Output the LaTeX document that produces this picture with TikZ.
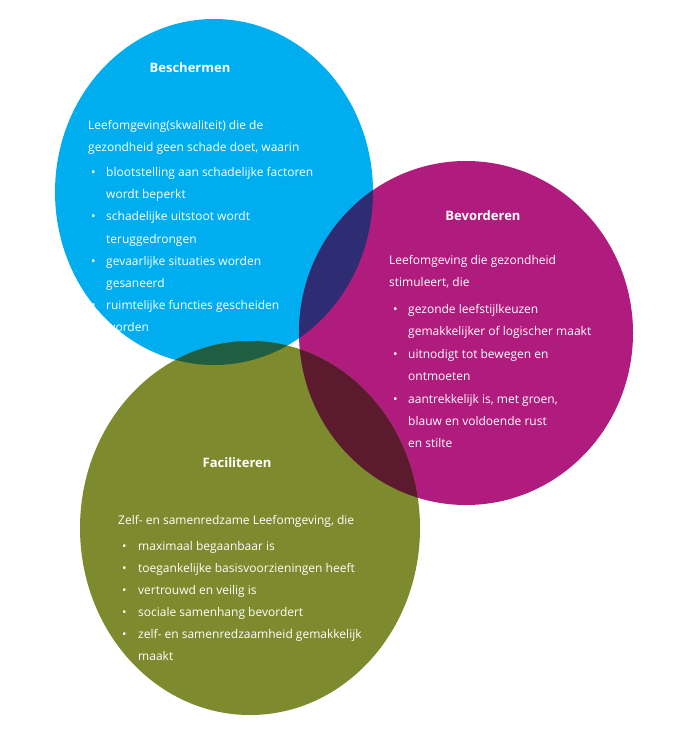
\documentclass[tikz,border=0pt]{standalone}
\usepackage{fontspec}
\setmainfont{Open Sans}
\begin{document}
\begin{tikzpicture}[x=1pt,y=-1pt,
  t/.style={anchor=base west,text=white,inner sep=0pt,font=\fontsize{12}{14}\selectfont},
  h/.style={anchor=base,text=white,inner sep=0pt,font=\bfseries\fontsize{13}{15}\selectfont},
  b/.style={anchor=base west,text=white,inner sep=0pt,font=\fontsize{12}{14}\selectfont}]
\useasboundingbox (0,0) rectangle (682,751);
\fill[white] (0,0) rectangle (682,751);
\def\B{(214,192) ellipse [x radius=159,y radius=173]}
\def\M{(466,333) ellipse [x radius=167,y radius=172]}
\def\G{(250,528) ellipse [x radius=170,y radius=187]}
\definecolor{colB}{HTML}{00AEEF}
\definecolor{colM}{HTML}{B01C7E}
\definecolor{colG}{HTML}{7E8A2E}
\definecolor{colBM}{HTML}{2E2C72}
\definecolor{colBG}{HTML}{1F5E40}
\definecolor{colMG}{HTML}{5C1A2E}
\definecolor{colBMG}{HTML}{2A1E3A}
\fill[colB] \B; \fill[colM] \M; \fill[colG] \G;
\begin{scope}\clip \B; \fill[colBM] \M; \fill[colBG] \G; \end{scope}
\begin{scope}\clip \M; \fill[colMG] \G; \end{scope}
\begin{scope}\clip \B; \clip \M; \fill[colBMG] \G; \end{scope}
% Beschermen
\node[h] (h1) at (190,73) {Beschermen};
\node[t] (a1) at (88,130) {Leefomgeving(skwaliteit) die de};
\node[t] (a2) at (88,152) {gezondheid geen schade doet, waarin};
\foreach \y/\s/\bl in {177/blootstelling aan schadelijke factoren/1,199/wordt beperkt/0,221/schadelijke uitstoot wordt/1,243/teruggedrongen/0,265/gevaarlijke situaties worden/1,287/gesaneerd/0,309/ruimtelijke functies gescheiden/1,331/worden/0}{
  \node[t] (ba\y) at (106,\y) {\s};
  \ifnum\bl=1 \node[b] (bb\y) at (91,\y) {•};\fi}
% Bevorderen
\node[h] (h2) at (483,220) {Bevorderen};
\node[t] (c1) at (389,264) {Leefomgeving die gezondheid};
\node[t] (c2) at (389,286) {stimuleert, die};
\foreach \y/\s/\bl in {313/gezonde leefstijlkeuzen/1,335/gemakkelijker of logischer maakt/0,358/uitnodigt tot bewegen en/1,380/ontmoeten/0,{403/{aantrekkelijk is, met groen,}/1},425/blauw en voldoende rust/0,447/en stilte/0}{
  \node[t] (da\y) at (408,\y) {\s};
  \ifnum\bl=1 \node[b] (db\y) at (393,\y) {•};\fi}
% Faciliteren
\node[h] (h3) at (237,467) {Faciliteren};
\node[t] (e1) at (118,524) {Zelf- en samenredzame Leefomgeving, die};
\foreach \y/\s/\bl in {550/maximaal begaanbaar is/1,572/toegankelijke basisvoorzieningen heeft/1,594/vertrouwd en veilig is/1,616/sociale samenhang bevordert/1,638/zelf- en samenredzaamheid gemakkelijk/1,660/maakt/0}{
  \node[t] (fa\y) at (138,\y) {\s};
  \ifnum\bl=1 \node[b] (fb\y) at (122,\y) {•};\fi}
\node[text=white,inner sep=0pt,font=\itshape\fontsize{10}{12}\selectfont,rotate=70] (pbl) at (398,662) {pbl.nl};
\end{tikzpicture}
\end{document}
